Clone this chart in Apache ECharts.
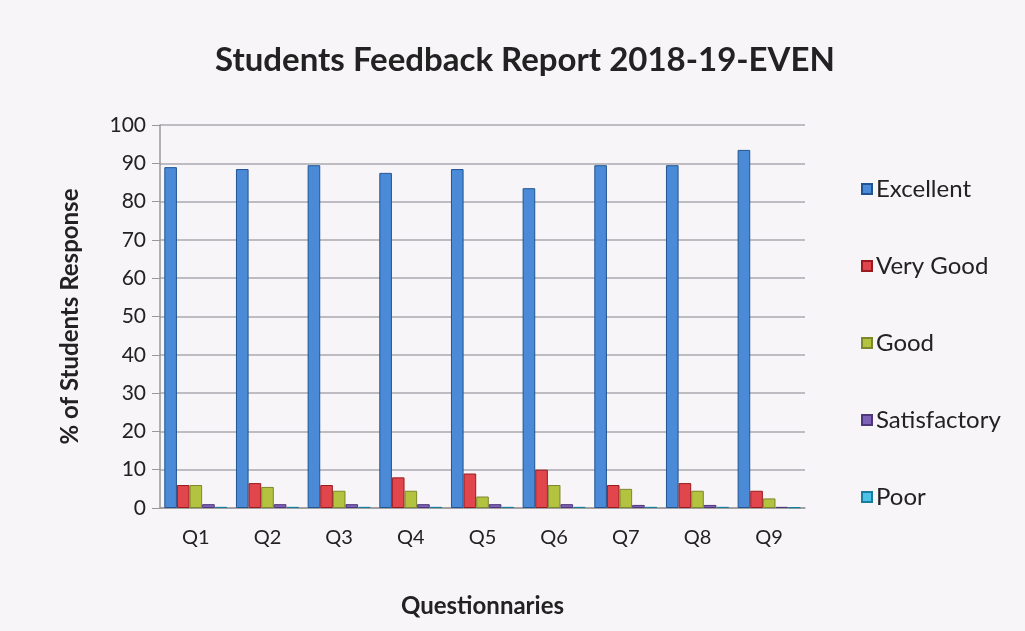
<!DOCTYPE html>
<html>
<head>
<meta charset="utf-8">
<script src="https://cdn.jsdelivr.net/npm/echarts@6/dist/echarts.min.js"></script>
<style>
  html, body { margin: 0; padding: 0; background: #f6f4f6; }
  #chart { width: 1025px; height: 631px; }
</style>
</head>
<body>
<div id="chart"></div>
<script>
// chart data
const questions = ['Q1', 'Q2', 'Q3', 'Q4', 'Q5', 'Q6', 'Q7', 'Q8', 'Q9']
const excellent = [89, 88.5, 89.5, 87.5, 88.5, 83.5, 89.5, 89.5, 93.5]
const veryGood = [6, 6.5, 6, 8, 9, 10, 6, 6.5, 4.5]
const good = [6, 5.5, 4.5, 4.5, 3, 6, 5, 4.5, 2.5]
const satisfactory = [1, 1, 1, 1, 1, 1, 0.8, 0.8, 0.3]
const poor = [0.3, 0.3, 0.3, 0.3, 0.3, 0.3, 0.3, 0.3, 0.2]
const seriesNames = ['Excellent', 'Very Good', 'Good', 'Satisfactory', 'Poor']
const seriesColors = ['#4a8ad6', '#e0464c', '#b3c23f', '#7d61b7', '#4cc2e6']

const chart = echarts.init(document.getElementById('chart'))
const font = 'Lato, "Open Sans", sans-serif'

const seriesData = [excellent, veryGood, good, satisfactory, poor]

chart.setOption({
    backgroundColor: '#f7f5f7',
    textStyle: { fontFamily: font },
    title: {
        text: 'Students Feedback Report 2018-19-EVEN',
        left: 520,
        top: 39,
        textAlign: 'center',
        textStyle: { fontSize: 33, fontWeight: 'bold', color: '#222', fontFamily: font }
    },
    legend: {
        orient: 'vertical',
        left: 856,
        top: 172,
        itemGap: 53,
        itemWidth: 10,
        itemHeight: 10,
        icon: 'rect',
        textStyle: { fontSize: 24, color: '#222', padding: [0, 0, 0, -1] },
        data: seriesNames
    },
    grid: {
        left: 160,
        right: 220,
        top: 125,
        bottom: 123
    },
    xAxis: {
        type: 'category',
        data: questions,
        name: 'Questionnaries',
        nameLocation: 'middle',
        nameGap: 86,
        nameTextStyle: { fontSize: 24, fontWeight: 'bold', color: '#222' },
        axisLine: { lineStyle: { color: '#999', width: 1.5 } },
        axisTick: { show: false },
        axisLabel: { fontSize: 20, color: '#222', margin: 20 }
    },
    yAxis: {
        type: 'value',
        min: 0,
        max: 100,
        interval: 10,
        name: '% of Students Response',
        nameLocation: 'middle',
        nameGap: 78,
        nameTextStyle: { fontSize: 24, fontWeight: 'bold', color: '#222' },
        axisLine: { show: true, lineStyle: { color: '#999', width: 1.5 } },
        axisTick: { show: true, length: 8, inside: false, lineStyle: { color: '#999' } },
        axisLabel: { fontSize: 21, color: '#222', margin: 14 },
        splitLine: { lineStyle: { color: '#a8a8b0', width: 1.5 } }
    },
    series: seriesNames.map((name, i) => ({
        name: name,
        type: 'bar',
        data: seriesData[i],
        barGap: '0%',
        barCategoryGap: '12%',
        itemStyle: {
            color: seriesColors[i],
            borderColor: echarts.color.modifyHSL(seriesColors[i], null, null, 0.35),
            borderWidth: 1
        }
    }))
})
</script>
</body>
</html>
